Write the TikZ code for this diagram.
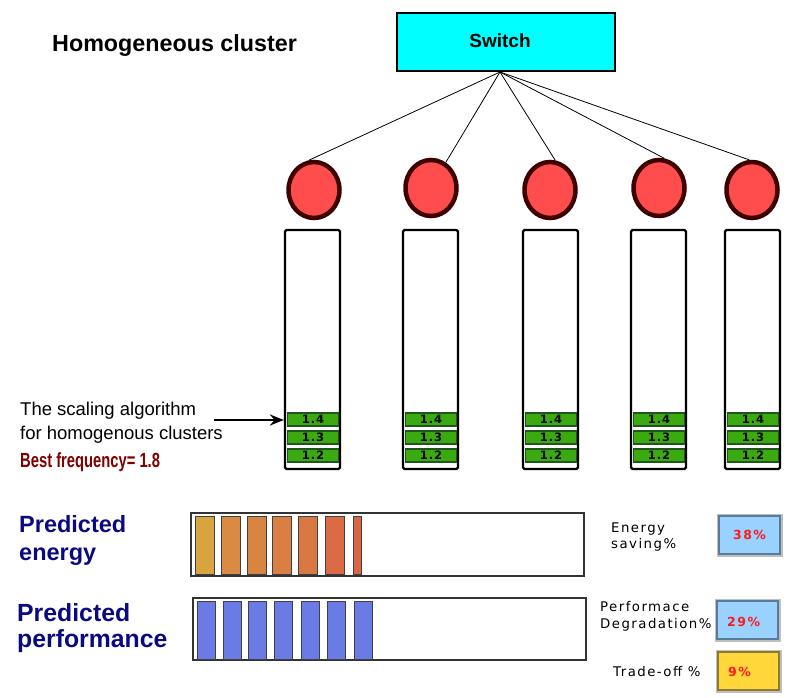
\documentclass[tikz,border=0pt]{standalone}
\usepackage{fontspec}
\setmainfont{Liberation Sans}
\newfontfamily\narrowsans{Liberation Sans}[FakeStretch=0.72]
\newfontfamily\spacedsans{DejaVu Sans}[LetterSpace=11]
\newfontfamily\pctsans{DejaVu Sans}[LetterSpace=12]
\newfontfamily\barsans{DejaVu Sans}[LetterSpace=8]
\usetikzlibrary{shapes.geometric,arrows.meta}
\definecolor{switchcyan}{HTML}{00FFFF}
\definecolor{srvfill}{HTML}{FF4C4C}
\definecolor{srvborder}{HTML}{3F0000}
\definecolor{bargreen}{HTML}{3AAA10}
\definecolor{bardark}{HTML}{1E561E}
\definecolor{navy}{HTML}{0A0A80}
\definecolor{bestred}{HTML}{800000}
\definecolor{eA}{HTML}{D8A43F}
\definecolor{eB}{HTML}{D98B44}
\definecolor{eC}{HTML}{D98542}
\definecolor{eD}{HTML}{DA7F44}
\definecolor{eE}{HTML}{DA7844}
\definecolor{eF}{HTML}{DA6B44}
\definecolor{eG}{HTML}{D96544}
\definecolor{perfblue}{HTML}{6A7BE6}
\definecolor{lightblue}{HTML}{99D1FF}
\definecolor{blueborder}{HTML}{5A7A99}
\definecolor{yellowfill}{HTML}{FFD73A}
\definecolor{yellowborder}{HTML}{8C7A33}
\definecolor{pctred}{HTML}{FF1A1A}
\begin{document}
\begin{tikzpicture}[x=1pt,y=-1pt,
  switchbox/.style={draw=black, line width=1.3pt, fill=switchcyan, minimum width=218pt, minimum height=58pt, inner sep=0pt},
  server/.style={ellipse, draw=srvborder, line width=4.5pt, fill=srvfill, minimum width=51pt, minimum height=56pt, inner sep=0pt},
  colbox/.style={draw=black, line width=2.2pt, rounded corners=1.5pt, minimum width=55pt, minimum height=239pt, inner sep=0pt},
  freq/.style={draw=bardark, line width=1.2pt, fill=bargreen, minimum width=51pt, minimum height=13pt, inner sep=0pt, font=\barsans\bfseries\fontsize{11.5}{11.5}\selectfont},
  link/.style={draw=black, line width=0.8pt},
  barframe/.style={draw=black!80, line width=1.3pt, fill=white},
  ebar/.style={draw=black!75, line width=1pt},
  pbar/.style={draw=black!75, line width=1pt, fill=perfblue},
  pctbox/.style={preaction={draw=black!25, line width=5pt}, draw=#1, line width=2.5pt},
  bigtitle/.style={font=\bfseries\fontsize{23.3}{27}\selectfont, inner sep=0pt, anchor=base west},
  predlabel/.style={font=\bfseries\fontsize{23.5}{27}\selectfont, text=navy, inner sep=0pt, anchor=base west},
  smalllabel/.style={font=\spacedsans\fontsize{13.3}{16}\selectfont, inner sep=0pt, anchor=base west},
  pcttext/.style={font=\pctsans\bfseries\fontsize{12.5}{14}\selectfont, text=pctred, inner sep=0pt, anchor=base west},
  algtext/.style={font=\fontsize{18.5}{22}\selectfont, inner sep=0pt, anchor=base west}
]
\useasboundingbox (0,0) rectangle (800,698);

% title and switch
\node[bigtitle] (title) at (52,52) {Homogeneous cluster};
\node[switchbox] (sw) at (506,42) {};
\node[font=\bfseries\fontsize{19}{22}\selectfont, inner sep=0pt, anchor=base] (swlabel) at (500,48) {Switch};
\coordinate (hub) at (500,72);

% servers, columns, frequency bars
\foreach \i/\x/\cx/\cy/\ang in {1/285/314/190/100, 2/403/431/188/60, 3/523/550/190/80, 4/631/659/188/80, 5/725/752/190/95}{
  \node[server] (c\i) at (\cx,\cy) {};
  \draw[link] (hub) -- (c\i.\ang);
  \node[colbox] (col\i) at (\x+27.5,349.5) {};
  \node[freq] (f\i a) at (\x+28,419.5) {1.4};
  \node[freq] (f\i b) at (\x+28,437.5) {1.3};
  \node[freq] (f\i c) at (\x+28,455.5) {1.2};
}

% algorithm text and arrow
\node[algtext] (alg1) at (20,415) {The scaling algorithm};
\node[algtext] (alg2) at (20,439) {for homogenous clusters};
\node[font=\narrowsans\bfseries\fontsize{20.5}{24}\selectfont, text=bestred, inner sep=0pt, anchor=base west] (best) at (20,467) {Best frequency= 1.8};
\coordinate (arrowtail) at (214,420);
\draw[line width=2pt, -{Stealth[length=14pt,width=11pt]}] (arrowtail) -- (col1.west |- arrowtail);

% predicted energy
\node[predlabel] (pe1) at (19,532) {Predicted};
\node[predlabel] (pe2) at (19,560) {energy};
\draw[barframe] (191,513) rectangle (584,576);
\draw[ebar, fill=eA] (195,516) rectangle (214,574);
\draw[ebar, fill=eB] (221,516) rectangle (240,574);
\draw[ebar, fill=eC] (247,516) rectangle (266,574);
\draw[ebar, fill=eD] (272,516) rectangle (291,574);
\draw[ebar, fill=eE] (298,516) rectangle (317,574);
\draw[ebar, fill=eF] (325,516) rectangle (344,574);
\draw[ebar, fill=eG] (353,516) rectangle (361,574);

% predicted performance
\node[predlabel, font=\bfseries\fontsize{24.8}{27}\selectfont] (pp1) at (17,621) {Predicted};
\node[predlabel, font=\bfseries\fontsize{24.8}{27}\selectfont] (pp2) at (17,647) {performance};
\draw[barframe] (193,598) rectangle (586,660);
\draw[pbar] (197,601) rectangle (215,659);
\draw[pbar] (223,601) rectangle (241,659);
\draw[pbar] (248,601) rectangle (266,659);
\draw[pbar] (274,601) rectangle (292,659);
\draw[pbar] (301,601) rectangle (319,659);
\draw[pbar] (327,601) rectangle (345,659);
\draw[pbar] (354,601) rectangle (372,659);

% right side results
\node[smalllabel] (es1) at (611,532) {Energy};
\node[smalllabel] (es2) at (611,548) {saving\%};
\draw[pctbox=blueborder, fill=lightblue] (719,516) rectangle (780,554);
\node[pcttext, anchor=base] (es) at (749.5,539) {38\%};

\node[smalllabel] (pd1) at (600,611) {Performace};
\node[smalllabel] (pd2) at (600,628) {Degradation\%};
\draw[pctbox=blueborder, fill=lightblue] (717,601) rectangle (778,639);
\node[pcttext] (pd) at (727,626) {29\%};

\node[smalllabel] (to1) at (613,676) {Trade-off \%};
\draw[pctbox=yellowborder, fill=yellowfill] (718,652) rectangle (779,690);
\node[pcttext] (to) at (728,676) {9\%};
\end{tikzpicture}
\end{document}
